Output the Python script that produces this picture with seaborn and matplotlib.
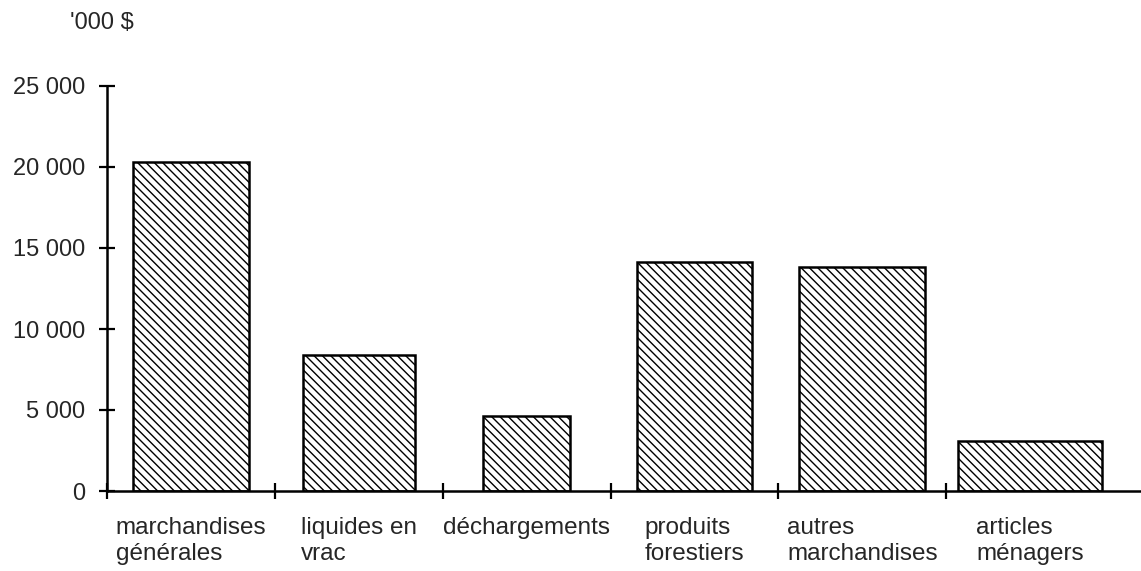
import matplotlib
matplotlib.use("Agg")
import matplotlib.pyplot as plt
import seaborn as sns
import pandas as pd

# Values in '000 $
categories = ['marchandises\ngénérales', 'liquides en\nvrac', 'déchargements',
              'produits\nforestiers', 'autres\nmarchandises', 'articles\nménagers']
values = [20300, 8400, 4650, 14150, 13800, 3100]
y_ticks = [0, 5000, 10000, 15000, 20000, 25000]
y_tick_labels = ['0', '5 000', '10 000', '15 000', '20 000', '25 000']

# bar widths in the original are uneven (fraction of a category slot)
bar_widths = [0.69, 0.67, 0.52, 0.69, 0.75, 0.86]

df = pd.DataFrame({'cat': categories, 'val': values})

sns.set_style('white')
plt.rcParams['font.family'] = ['Liberation Sans', 'DejaVu Sans']
plt.rcParams['hatch.linewidth'] = 1.0

fig = plt.figure(figsize=(11.41, 5.71), dpi=100)
ax = fig.add_axes([107 / 1141, 80 / 571, 1 - 107 / 1141, (491 - 86) / 571])

sns.barplot(data=df, x='cat', y='val', ax=ax, color='white', edgecolor='black',
            linewidth=1.8, width=0.7, saturation=1)
for p, w in zip(ax.patches, bar_widths):
    c = p.get_x() + p.get_width() / 2
    p.set_width(w)
    p.set_x(c - w / 2)
    p.set_hatch('\\\\\\\\')

ax.set_ylim(0, 25000)
ax.set_xlim(-0.5, 5.66)
ax.set_yticks(y_ticks)
ax.set_yticklabels(y_tick_labels, fontsize=17)
ax.set_xlabel('')
ax.set_ylabel('')

# category labels at bar centres, separator ticks between categories
ax.tick_params(axis='x', which='major', length=0, pad=19, labelsize=17.5)
for lbl in ax.get_xticklabels():
    lbl.set_multialignment('left')
ax.set_xticks([i + 0.5 for i in range(-1, len(categories) - 1)], minor=True)
ax.tick_params(axis='x', which='minor', bottom=True, direction='inout',
               length=12, width=1.6, color='black')
ax.tick_params(axis='y', direction='inout', length=12, width=1.6,
               color='black', pad=10, left=True)

for side in ['top', 'right']:
    ax.spines[side].set_visible(False)
for side in ['left', 'bottom']:
    ax.spines[side].set_linewidth(1.8)
    ax.spines[side].set_color('black')

fig.text(70 / 1141, 1 - 23 / 571, "'000 $", fontsize=17, va='center', ha='left')

fig.savefig('out.png', dpi=100)
